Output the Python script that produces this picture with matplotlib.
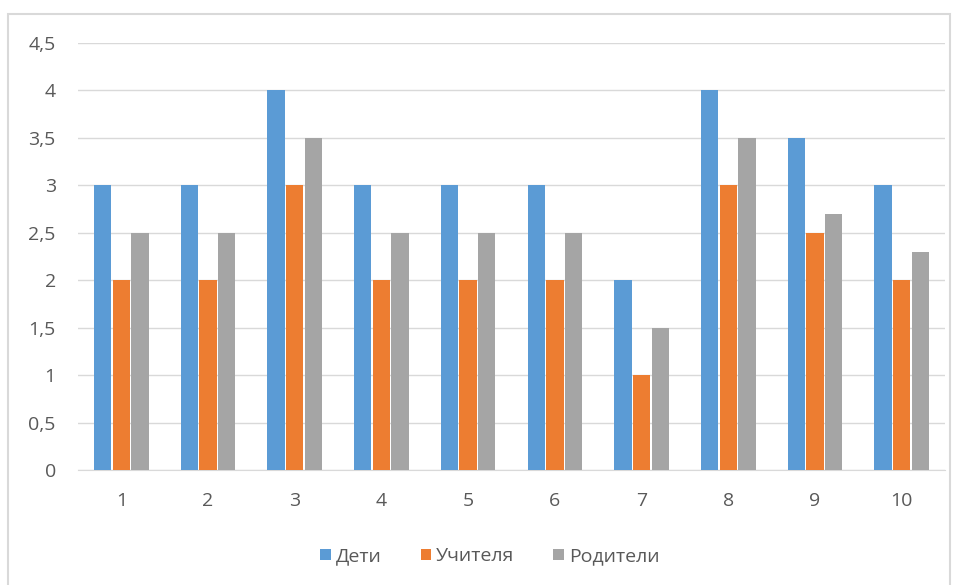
import numpy as np
import matplotlib.pyplot as plt
from matplotlib.ticker import FuncFormatter
from matplotlib.patches import Rectangle

categories = ['1', '2', '3', '4', '5', '6', '7', '8', '9', '10']
deti = [3, 3, 4, 3, 3, 3, 2, 4, 3.5, 3]
uchitelya = [2, 2, 3, 2, 2, 2, 1, 3, 2.5, 2]
roditeli = [2.5, 2.5, 3.5, 2.5, 2.5, 2.5, 1.5, 3.5, 2.7, 2.3]

series = [('Дети', deti, '#5b9bd5'),
          ('Учителя', uchitelya, '#ed7d31'),
          ('Родители', roditeli, '#a5a5a5')]

plt.rcParams['font.family'] = ['Open Sans', 'DejaVu Sans']

fig = plt.figure(figsize=(9.61, 5.85), dpi=100)
ax = fig.add_axes([78 / 961, 115 / 585, 867 / 961, 427 / 585])

# chart frame
fig.patches.append(Rectangle((8 / 961, -0.05), 942 / 961, 1 - 14 / 585 + 0.05,
                             transform=fig.transFigure, fill=False,
                             edgecolor='#d9d9d9', linewidth=1.5))

x = np.arange(len(categories))
width = 0.2
step = 0.215
for i, (name, vals, color) in enumerate(series):
    ax.bar(x + (i - 1) * step, vals, width, color=color, label=name, zorder=3)

ax.set_xlim(-0.5, len(categories) - 0.5)
ax.set_ylim(0, 4.5)
ax.set_yticks(np.arange(0, 4.51, 0.5))
ax.yaxis.set_major_formatter(FuncFormatter(lambda v, p: ('%g' % v).replace('.', ',')))
ax.set_xticks(x)
ax.set_xticklabels(categories)

ax.grid(axis='y', color='#d9d9d9', linewidth=1, zorder=0)
for s in ['top', 'right', 'left']:
    ax.spines[s].set_visible(False)
ax.spines['bottom'].set_color('#d9d9d9')
ax.tick_params(axis='both', length=0, colors='#595959', labelsize=14)
ax.tick_params(axis='y', pad=16)
ax.tick_params(axis='x', pad=16)

leg = ax.legend(loc='upper center', bbox_to_anchor=(0.475, -0.14), ncol=3,
                frameon=False, fontsize=14, handlelength=0.55, handleheight=0.55,
                handletextpad=0.25, columnspacing=2.0)
for t in leg.get_texts():
    t.set_color('#595959')

fig.savefig('out.png', dpi=100)
